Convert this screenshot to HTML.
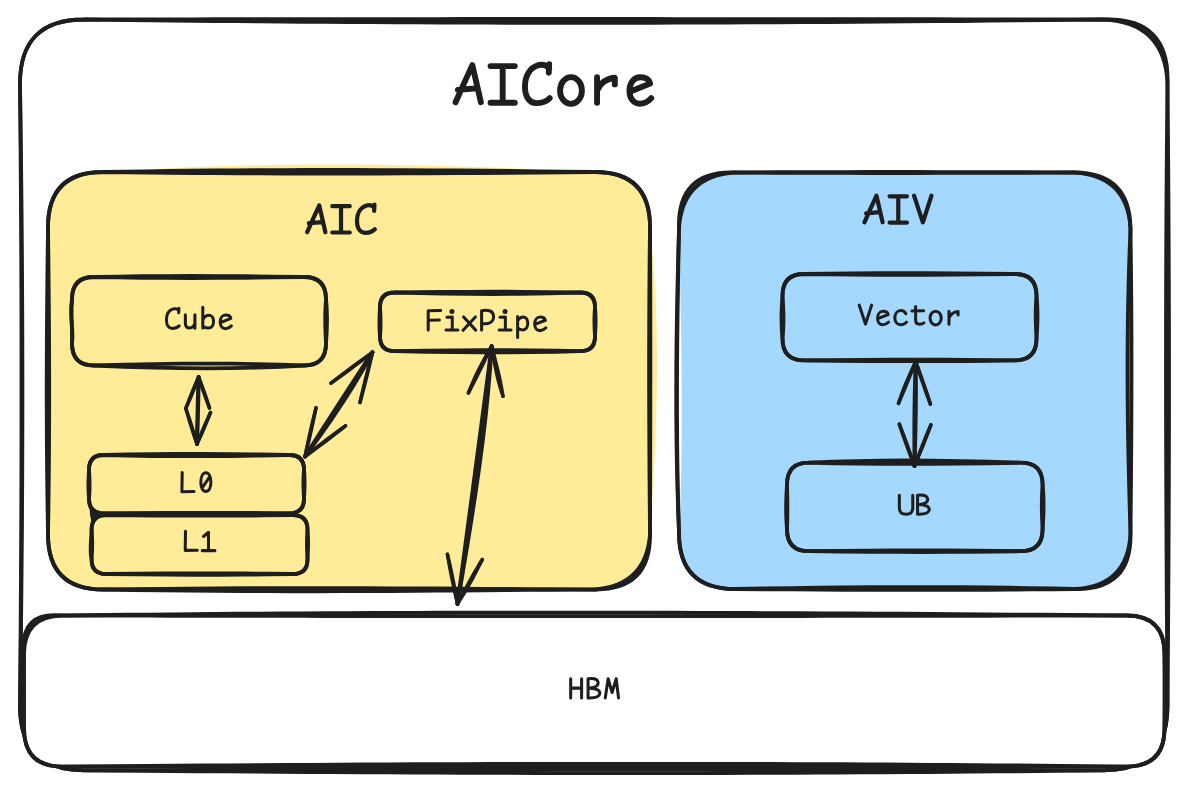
<!DOCTYPE html>
<html><head><meta charset="utf-8"><title>AICore</title>
<style>
html,body{margin:0;padding:0;background:#fff;font-family:"Liberation Sans",sans-serif;}
svg{display:block}
.s{fill:none;stroke:#1e1e1e;stroke-linecap:round;stroke-linejoin:round}
.t{fill:none;stroke:#1e1e1e;stroke-linecap:round;stroke-linejoin:round}
</style></head><body>
<svg width="1187" height="791" viewBox="0 0 1187 791">
<rect width="1187" height="791" fill="#fff"/>
<path d="M84 19.5L105.85 19.5L127.7 19.5L149.58 19.5L171.47 19.5L193.4 19.5L215.38 19.5L237.4 19.5L259.48 19.5L281.62 19.5L303.84 19.5L326.14 19.5L348.53 19.5L371.03 19.5L393.63 19.5L416.34 19.5L439.18 19.5L462.15 19.5L485.26 19.5L508.52 19.5L531.94 19.5L555.52 19.5L579.27 19.5L603.21 19.5L627.34 19.5L651.66 19.5L676.19 19.5L700.94 19.5L725.91 19.5L751.11 19.5L776.55 19.5L802.23 19.5L828.18 19.5L854.38 19.5L880.86 19.5L907.62 19.5L934.67 19.5L962.02 19.5L989.67 19.5L1017.64 19.5L1045.93 19.5L1074.54 19.5L1103.5 19.5Q1167.5 19.5 1167.5 83.5L1167.5 105.92L1167.5 128.37L1167.5 150.87L1167.5 173.44L1167.5 196.1L1167.5 218.89L1167.5 241.81L1167.5 264.91L1167.5 288.19L1167.5 311.69L1167.5 335.43L1167.5 359.44L1167.5 383.73L1167.5 408.33L1167.5 433.26L1167.5 458.56L1167.5 484.24L1167.5 510.32L1167.5 536.83L1167.5 563.8L1167.5 591.25L1167.5 619.2L1167.5 647.68L1167.5 676.7L1167.5 706.3Q1167.5 770.3 1103.5 770.3L1081.65 770.3L1059.8 770.3L1037.92 770.3L1016.03 770.3L994.1 770.3L972.12 770.3L950.1 770.3L928.02 770.3L905.88 770.3L883.66 770.3L861.36 770.3L838.97 770.3L816.47 770.3L793.87 770.3L771.16 770.3L748.32 770.3L725.35 770.3L702.24 770.3L678.98 770.3L655.56 770.3L631.98 770.3L608.23 770.3L584.29 770.3L560.16 770.3L535.84 770.3L511.31 770.3L486.56 770.3L461.59 770.3L436.39 770.3L410.95 770.3L385.27 770.3L359.32 770.3L333.12 770.3L306.64 770.3L279.88 770.3L252.83 770.3L225.48 770.3L197.83 770.3L169.86 770.3L141.57 770.3L112.96 770.3L84 770.3Q20 770.3 20 706.3L20 683.88L20 661.43L20 638.93L20 616.36L20 593.7L20 570.91L20 547.99L20 524.89L20 501.61L20 478.11L20 454.37L20 430.36L20 406.07L20 381.47L20 356.54L20 331.24L20 305.56L20 279.48L20 252.97L20 226L20 198.55L20 170.6L20 142.12L20 113.1L20 83.5Q20 19.5 84 19.5" fill="#ffffff"/>
<path d="M84 19.5L105.85 19.45L127.7 19.41L149.58 19.37L171.47 19.33L193.4 19.29L215.38 19.26L237.4 19.22L259.48 19.19L281.62 19.16L303.84 19.14L326.14 19.11L348.53 19.09L371.03 19.07L393.63 19.06L416.34 19.04L439.18 19.03L462.15 19.02L485.26 19.01L508.52 19L531.94 19L555.52 19L579.27 19L603.21 19L627.34 19.01L651.66 19.02L676.19 19.03L700.94 19.04L725.91 19.06L751.11 19.07L776.55 19.09L802.23 19.11L828.18 19.14L854.38 19.16L880.86 19.19L907.62 19.22L934.67 19.26L962.02 19.29L989.67 19.33L1017.64 19.37L1045.93 19.41L1074.54 19.45L1103.5 19.5Q1170 17 1167.5 83.5L1167.26 105.92L1167.03 128.37L1166.83 150.87L1166.66 173.44L1166.5 196.1L1166.37 218.89L1166.25 241.81L1166.16 264.91L1166.09 288.19L1166.04 311.69L1166.01 335.43L1166 359.44L1166.01 383.73L1166.03 408.33L1166.08 433.26L1166.14 458.56L1166.23 484.24L1166.33 510.32L1166.44 536.83L1166.58 563.8L1166.73 591.25L1166.9 619.2L1167.08 647.68L1167.28 676.7L1167.5 706.3Q1167.5 770.3 1103.5 770.3L1081.65 770.23L1059.8 770.15L1037.92 770.09L1016.03 770.02L994.1 769.96L972.12 769.91L950.1 769.86L928.02 769.81L905.88 769.76L883.66 769.72L861.36 769.68L838.97 769.65L816.47 769.62L793.87 769.59L771.16 769.57L748.32 769.55L725.35 769.53L702.24 769.52L678.98 769.51L655.56 769.5L631.98 769.5L608.23 769.5L584.29 769.51L560.16 769.52L535.84 769.53L511.31 769.55L486.56 769.57L461.59 769.59L436.39 769.62L410.95 769.65L385.27 769.68L359.32 769.72L333.12 769.76L306.64 769.81L279.88 769.86L252.83 769.91L225.48 769.96L197.83 770.02L169.86 770.09L141.57 770.15L112.96 770.23L84 770.3Q20 770.3 20 706.3L20.19 683.88L20.37 661.43L20.54 638.93L20.7 616.36L20.84 593.7L20.98 570.91L21.1 547.99L21.21 524.89L21.3 501.61L21.38 478.11L21.44 454.37L21.49 430.36L21.51 406.07L21.51 381.47L21.5 356.54L21.46 331.24L21.4 305.56L21.32 279.48L21.21 252.97L21.08 226L20.92 198.55L20.73 170.6L20.52 142.12L20.27 113.1L20 83.5Q20 19.5 84 19.5" class="s" stroke-width="3.8"/>
<path d="M84 19.5L105.85 19.78L127.7 20.05L149.58 20.31L171.47 20.55L193.4 20.79L215.38 21.01L237.4 21.22L259.48 21.42L281.62 21.61L303.84 21.78L326.14 21.94L348.53 22.09L371.03 22.22L393.63 22.34L416.34 22.45L439.18 22.55L462.15 22.63L485.26 22.69L508.52 22.74L531.94 22.78L555.52 22.8L579.27 22.81L603.21 22.8L627.34 22.77L651.66 22.74L676.19 22.68L700.94 22.61L725.91 22.52L751.11 22.42L776.55 22.3L802.23 22.16L828.18 22.01L854.38 21.84L880.86 21.65L907.62 21.44L934.67 21.22L962.02 20.98L989.67 20.72L1017.64 20.44L1045.93 20.15L1074.54 19.83L1103.5 19.5Q1165 22 1167.5 83.5L1167.72 105.92L1167.92 128.37L1168.1 150.87L1168.27 173.44L1168.42 196.1L1168.56 218.89L1168.67 241.81L1168.77 264.91L1168.86 288.19L1168.92 311.69L1168.97 335.43L1168.99 359.44L1169 383.73L1168.99 408.33L1168.96 433.26L1168.91 458.56L1168.84 484.24L1168.75 510.32L1168.63 536.83L1168.5 563.8L1168.34 591.25L1168.17 619.2L1167.97 647.68L1167.74 676.7L1167.5 706.3Q1167.5 770.3 1103.5 770.3L1081.65 770.56L1059.8 770.81L1037.92 771.04L1016.03 771.27L994.1 771.47L972.12 771.67L950.1 771.86L928.02 772.03L905.88 772.19L883.66 772.33L861.36 772.47L838.97 772.59L816.47 772.69L793.87 772.79L771.16 772.87L748.32 772.94L725.35 773L702.24 773.04L678.98 773.07L655.56 773.09L631.98 773.1L608.23 773.09L584.29 773.07L560.16 773.04L535.84 773L511.31 772.94L486.56 772.87L461.59 772.79L436.39 772.69L410.95 772.59L385.27 772.47L359.32 772.33L333.12 772.19L306.64 772.03L279.88 771.86L252.83 771.67L225.48 771.47L197.83 771.27L169.86 771.04L141.57 770.81L112.96 770.56L84 770.3Q20 770.3 20 706.3L20.31 683.88L20.61 661.43L20.89 638.93L21.14 616.36L21.38 593.7L21.6 570.91L21.79 547.99L21.96 524.89L22.11 501.61L22.23 478.11L22.32 454.37L22.38 430.36L22.41 406.07L22.41 381.47L22.38 356.54L22.32 331.24L22.21 305.56L22.08 279.48L21.9 252.97L21.69 226L21.44 198.55L21.14 170.6L20.81 142.12L20.43 113.1L20 83.5Q20 19.5 84 19.5" class="s" stroke-width="3.8"/>
<path d="M103 172L125.15 170.57L147.33 169.3L169.59 168.17L191.95 167.2L214.47 166.38L237.17 165.7L260.09 165.18L283.27 164.8L306.74 164.58L330.55 164.5L354.73 164.58L379.31 164.8L404.33 165.17L429.84 165.7L455.86 166.38L482.43 167.2L509.59 168.18L537.39 169.3L565.84 170.57L595 172Q650 172 650 227L652.27 250.08L654.07 273.27L655.44 296.67L656.37 320.39L656.89 344.54L657 369.22L656.72 394.54L656.07 420.61L655.06 447.54L653.7 475.42L652.01 504.37L650 534.5Q650 589.5 595 589.5L572.85 589.5L550.67 589.5L528.41 589.5L506.05 589.5L483.53 589.5L460.83 589.5L437.91 589.5L414.73 589.5L391.26 589.5L367.45 589.5L343.27 589.5L318.69 589.5L293.67 589.5L268.16 589.5L242.14 589.5L215.57 589.5L188.41 589.5L160.61 589.5L132.16 589.5L103 589.5Q48 589.5 48 534.5L47.81 511.42L47.58 488.23L47.34 464.83L47.11 441.11L46.91 416.96L46.75 392.28L46.66 366.96L46.67 340.89L46.78 313.96L47.03 286.08L47.43 257.13L48 227Q48 172 103 172" fill="#ffec99"/>
<path d="M103 172L125.15 171.62L147.33 171.28L169.59 170.98L191.95 170.72L214.47 170.5L237.17 170.32L260.09 170.18L283.27 170.08L306.74 170.02L330.55 170L354.73 170.02L379.31 170.08L404.33 170.18L429.84 170.32L455.86 170.5L482.43 170.72L509.59 170.98L537.39 171.28L565.84 171.62L595 172Q650 172 650 227L650.12 250.08L650.21 273.27L650.28 296.67L650.33 320.39L650.35 344.54L650.35 369.22L650.33 394.54L650.3 420.61L650.24 447.54L650.18 475.42L650.09 504.37L650 534.5Q650.5 590 595 589.5L572.85 589.37L550.67 589.23L528.41 589.09L506.05 588.94L483.53 588.79L460.83 588.64L437.91 588.51L414.73 588.39L391.26 588.28L367.45 588.2L343.27 588.14L318.69 588.12L293.67 588.13L268.16 588.17L242.14 588.26L215.57 588.4L188.41 588.59L160.61 588.83L132.16 589.13L103 589.5Q48 589.5 48 534.5L47.6 511.42L47.28 488.23L47.02 464.83L46.84 441.11L46.74 416.96L46.7 392.28L46.74 366.96L46.84 340.89L47.02 313.96L47.28 286.08L47.6 257.13L48 227Q48 172 103 172" class="s" stroke-width="3.8"/>
<path d="M103 172L125.15 172.3L147.33 172.58L169.59 172.82L191.95 173.02L214.47 173.2L237.17 173.34L260.09 173.46L283.27 173.54L306.74 173.58L330.55 173.6L354.73 173.58L379.31 173.54L404.33 173.46L429.84 173.34L455.86 173.2L482.43 173.02L509.59 172.82L537.39 172.58L565.84 172.3L595 172Q650 172 650 227L649.72 250.08L649.5 273.27L649.32 296.67L649.2 320.39L649.12 344.54L649.1 369.22L649.12 394.54L649.2 420.61L649.33 447.54L649.5 475.42L649.73 504.37L650 534.5Q646 585.5 595 589.5L572.85 589.63L550.67 589.79L528.41 589.96L506.05 590.14L483.53 590.33L460.83 590.51L437.91 590.68L414.73 590.84L391.26 590.99L367.45 591.1L343.27 591.18L318.69 591.23L293.67 591.23L268.16 591.18L242.14 591.08L215.57 590.91L188.41 590.67L160.61 590.36L132.16 589.98L103 589.5Q48 589.5 48 534.5L48.37 511.42L48.67 488.23L48.9 464.83L49.07 441.11L49.17 416.96L49.2 392.28L49.17 366.96L49.07 340.89L48.9 313.96L48.67 286.08L48.37 257.13L48 227Q48 172 103 172" class="s" stroke-width="3.8"/>
<path d="M735 172.5L756.84 172.5L778.75 172.5L800.81 172.5L823.09 172.5L845.67 172.5L868.62 172.5L892.02 172.5L915.93 172.5L940.44 172.5L965.62 172.5L991.54 172.5L1018.28 172.5L1045.91 172.5L1074.5 172.5Q1130.5 172.5 1130.5 228.5L1130.5 251.36L1130.5 274.32L1130.5 297.49L1130.5 320.98L1130.5 344.89L1130.5 369.33L1130.5 394.41L1130.5 420.22L1130.5 446.88L1130.5 474.5L1130.5 503.17L1130.5 533Q1130.5 589 1074.5 589L1052.66 589L1030.75 589L1008.69 589L986.41 589L963.83 589L940.88 589L917.48 589L893.57 589L869.06 589L843.88 589L817.96 589L791.22 589L763.59 589L735 589Q679 589 679 533L680.03 510.14L680.81 487.18L681.34 464.01L681.67 440.52L681.8 416.61L681.75 392.17L681.55 367.09L681.22 341.28L680.78 314.62L680.25 287L679.65 258.33L679 228.5Q679 172.5 735 172.5" fill="#a5d8ff"/>
<path d="M735 172.5L756.84 172.37L778.75 172.26L800.81 172.16L823.09 172.09L845.67 172.04L868.62 172.01L892.02 172L915.93 172.01L940.44 172.04L965.62 172.09L991.54 172.16L1018.28 172.26L1045.91 172.37L1074.5 172.5Q1127.5 175.5 1130.5 228.5L1129.58 251.36L1128.83 274.32L1128.25 297.49L1127.83 320.98L1127.58 344.89L1127.5 369.33L1127.58 394.41L1127.83 420.22L1128.25 446.88L1128.83 474.5L1129.58 503.17L1130.5 533Q1128 586.5 1074.5 589L1052.66 588.5L1030.75 588.07L1008.69 587.72L986.41 587.45L963.83 587.26L940.88 587.14L917.48 587.1L893.57 587.14L869.06 587.26L843.88 587.45L817.96 587.72L791.22 588.07L763.59 588.5L735 589Q679 589 679 533L678.12 510.14L677.41 487.18L676.86 464.01L676.48 440.52L676.26 416.61L676.2 392.17L676.29 367.09L676.54 341.28L676.94 314.62L677.48 287L678.17 258.33L679 228.5Q682.2 175.7 735 172.5" class="s" stroke-width="3.8"/>
<path d="M735 172.5L756.84 172.63L778.75 172.74L800.81 172.84L823.09 172.91L845.67 172.96L868.62 172.99L892.02 173L915.93 172.99L940.44 172.96L965.62 172.91L991.54 172.84L1018.28 172.74L1045.91 172.63L1074.5 172.5Q1130 173 1130.5 228.5L1130.81 251.36L1131.06 274.32L1131.25 297.49L1131.39 320.98L1131.47 344.89L1131.5 369.33L1131.47 394.41L1131.39 420.22L1131.25 446.88L1131.06 474.5L1130.81 503.17L1130.5 533Q1132 590.5 1074.5 589L1052.66 589.24L1030.75 589.44L1008.69 589.61L986.41 589.73L963.83 589.83L940.88 589.88L917.48 589.9L893.57 589.88L869.06 589.83L843.88 589.73L817.96 589.61L791.22 589.44L763.59 589.24L735 589Q679 589 679 533L678.34 510.14L677.81 487.18L677.43 464.01L677.16 440.52L677.02 416.61L677 392.17L677.09 367.09L677.28 341.28L677.58 314.62L677.96 287L678.44 258.33L679 228.5Q677 170.5 735 172.5" class="s" stroke-width="3.8"/>
<path d="M94 277L117.67 276.56L141.58 276.25L165.98 276.06L191.12 276L217.25 276.06L244.61 276.25L273.44 276.56L304 277Q326 277 326 299L326.56 305.7L326.89 312.51L327 319.58L326.89 327.02L326.56 334.95L326 343.5Q326 365.5 304 365.5L280.33 364.67L256.42 364.07L232.02 363.72L206.88 363.6L180.75 363.72L153.39 364.07L124.56 364.67L94 365.5Q72 365.5 72 343.5L72.46 336.8L72.24 329.99L71.7 322.92L71.23 315.48L71.2 307.55L72 299Q72 277 94 277" class="s" stroke-width="3.8"/>
<path d="M94 277L117.67 277.44L141.58 277.75L165.98 277.94L191.12 278L217.25 277.94L244.61 277.75L273.44 277.44L304 277Q326 277 326 299L325.56 305.7L325.29 312.51L325.2 319.58L325.29 327.02L325.56 334.95L326 343.5Q326 365.5 304 365.5L280.33 366.77L256.42 367.68L232.02 368.22L206.88 368.4L180.75 368.22L153.39 367.68L124.56 366.77L94 365.5Q72 365.5 72 343.5L72.09 336.8L71.94 329.99L71.7 322.92L71.53 315.48L71.57 307.55L72 299Q72 277 94 277" class="s" stroke-width="3.8"/>
<path d="M394.7 292.5L418.62 292.22L442.86 291.98L467.75 291.8L493.61 291.73L520.78 291.8L549.57 292.05L580.3 292.5Q595 292.5 595 307.2L595.33 311.61L595.53 316.1L595.6 320.75L595.53 325.65L595.33 330.87L595 336.5Q595 351.2 580.3 351.2L556.38 350.71L532.14 350.38L507.25 350.22L481.39 350.22L454.22 350.38L425.43 350.71L394.7 351.2Q380 351.2 380 336.5L379.67 332.09L379.47 327.6L379.4 322.95L379.47 318.05L379.67 312.83L380 307.2Q380 292.5 394.7 292.5" class="s" stroke-width="3.8"/>
<path d="M394.7 292.5L418.62 293.06L442.86 293.55L467.75 293.9L493.61 294.04L520.78 293.9L549.57 293.41L580.3 292.5Q595 292.5 595 307.2L594.67 311.61L594.47 316.1L594.4 320.75L594.47 325.65L594.67 330.87L595 336.5Q595 351.2 580.3 351.2L556.38 351.79L532.14 352.18L507.25 352.38L481.39 352.38L454.22 352.18L425.43 351.79L394.7 351.2Q380 351.2 380 336.5L380.33 332.09L380.53 327.6L380.6 322.95L380.53 318.05L380.33 312.83L380 307.2Q380 292.5 394.7 292.5" class="s" stroke-width="3.8"/>
<path d="M103.6 455L127.54 454.51L151.81 454.18L176.73 454.02L202.62 454.02L229.81 454.18L258.63 454.51L289.4 455Q304 455 304 469.6L304.33 473.98L304.53 478.44L304.6 483.06L304.53 487.92L304.33 493.11L304 498.7Q304 513.3 289.4 513.3L265.46 513.06L241.19 512.89L216.27 512.81L190.38 512.81L163.19 512.89L134.37 513.06L103.6 513.3Q89 513.3 89 498.7L88.67 494.32L88.47 489.86L88.4 485.24L88.47 480.38L88.67 475.19L89 469.6Q89 455 103.6 455" class="s" stroke-width="3.8"/>
<path d="M103.6 455L127.54 455.59L151.81 455.98L176.73 456.18L202.62 456.18L229.81 455.98L258.63 455.59L289.4 455Q304 455 304 469.6L303.67 473.98L303.47 478.44L303.4 483.06L303.47 487.92L303.67 493.11L304 498.7Q304 513.3 289.4 513.3L265.46 513.59L241.19 513.79L216.27 513.89L190.38 513.89L163.19 513.79L134.37 513.59L103.6 513.3Q89 513.3 89 498.7L89.33 494.32L89.53 489.86L89.6 485.24L89.53 480.38L89.33 475.19L89 469.6Q89 455 103.6 455" class="s" stroke-width="3.8"/>
<path d="M106.1 515.2L130.18 514.96L154.6 514.79L179.66 514.71L205.71 514.71L233.06 514.79L262.05 514.96L293 515.2Q307.5 515.2 307.5 529.7L307.83 534.18L308.03 538.75L308.1 543.48L308.03 548.46L307.83 553.77L307.5 559.5Q307.5 574 293 574L268.92 573.71L244.5 573.51L219.44 573.41L193.39 573.41L166.04 573.51L137.05 573.71L106.1 574Q91.6 574 91.6 559.5L90.91 555.02L90.65 550.45L90.7 545.72L90.95 540.74L91.29 535.43L91.6 529.7Q91.6 515.2 106.1 515.2" class="s" stroke-width="3.8"/>
<path d="M106.1 515.2L130.18 515.44L154.6 515.61L179.66 515.69L205.71 515.69L233.06 515.61L262.05 515.44L293 515.2Q307.5 515.2 307.5 529.7L307.17 534.18L306.97 538.75L306.9 543.48L306.97 548.46L307.17 553.77L307.5 559.5Q307.5 574 293 574L268.92 574.39L244.5 574.65L219.44 574.78L193.39 574.78L166.04 574.65L137.05 574.39L106.1 574Q91.6 574 91.6 559.5L91.86 555.02L92.07 550.45L92.2 545.72L92.19 540.74L92.01 535.43L91.6 529.7Q91.6 515.2 106.1 515.2" class="s" stroke-width="3.8"/>
<path d="M89.6 504.5Q91.5 512.5 101 514.2Q93 516 91.8 523Q89.2 514 89.6 504.5Z" fill="#1e1e1e"/>
<path d="M804.1 274L827.86 273.65L851.86 273.4L876.36 273.25L901.59 273.2L927.82 273.25L955.28 273.4L984.23 273.65L1014.9 274Q1036.5 274 1036.5 295.6L1037.06 302.1L1037.39 308.72L1037.5 315.58L1037.39 322.8L1037.06 330.5L1036.5 338.8Q1036.5 360.4 1014.9 360.4L991.14 360.05L967.14 359.8L942.64 359.65L917.41 359.6L891.18 359.65L863.72 359.8L834.77 360.05L804.1 360.4Q782.5 360.4 782.5 338.8L781.94 332.3L781.61 325.68L781.5 318.82L781.61 311.6L781.94 303.9L782.5 295.6Q782.5 274 804.1 274" class="s" stroke-width="3.8"/>
<path d="M804.1 274L827.86 274.35L851.86 274.6L876.36 274.75L901.59 274.8L927.82 274.75L955.28 274.6L984.23 274.35L1014.9 274Q1036.5 274 1036.5 295.6L1036.06 302.1L1035.79 308.72L1035.7 315.58L1035.79 322.8L1036.06 330.5L1036.5 338.8Q1036.5 360.4 1014.9 360.4L991.14 360.75L967.14 361L942.64 361.15L917.41 361.2L891.18 361.15L863.72 361L834.77 360.75L804.1 360.4Q782.5 360.4 782.5 338.8L783.06 332.3L783.39 325.68L783.5 318.82L783.39 311.6L783.06 303.9L782.5 295.6Q782.5 274 804.1 274" class="s" stroke-width="3.8"/>
<path d="M809 462.7L832.85 461.74L856.94 461.05L881.53 460.64L906.87 460.5L933.19 460.64L960.76 461.05L989.81 461.74L1020.6 462.7Q1042.6 462.7 1042.6 484.7L1043.16 491.4L1043.49 498.21L1043.6 505.28L1043.49 512.72L1043.16 520.65L1042.6 529.2Q1042.6 551.2 1020.6 551.2L996.75 550.85L972.66 550.6L948.07 550.45L922.73 550.4L896.41 550.45L868.84 550.6L839.79 550.85L809 551.2Q787 551.2 787 529.2L786.5 522.5L786.2 515.69L786.1 508.62L786.2 501.18L786.5 493.25L787 484.7Q787 462.7 809 462.7" class="s" stroke-width="3.8"/>
<path d="M809 462.7L832.85 463.23L856.94 463.6L881.53 463.82L906.87 463.9L933.19 463.82L960.76 463.6L989.81 463.23L1020.6 462.7Q1042.6 462.7 1042.6 484.7L1042.16 491.4L1041.89 498.21L1041.8 505.28L1041.89 512.72L1042.16 520.65L1042.6 529.2Q1042.6 551.2 1020.6 551.2L996.75 551.55L972.66 551.8L948.07 551.95L922.73 552L896.41 551.95L868.84 551.8L839.79 551.55L809 551.2Q787 551.2 787 529.2L787.22 522.5L787.36 515.69L787.4 508.62L787.36 501.18L787.22 493.25L787 484.7Q787 462.7 809 462.7" class="s" stroke-width="3.8"/>
<path d="M62 615.5L83.78 615.5L105.56 615.5L127.36 615.5L149.18 615.5L171.03 615.5L192.91 615.5L214.85 615.5L236.83 615.5L258.88 615.5L280.99 615.5L303.18 615.5L325.45 615.5L347.81 615.5L370.26 615.5L392.83 615.5L415.5 615.5L438.3 615.5L461.22 615.5L484.27 615.5L507.47 615.5L530.82 615.5L554.33 615.5L578 615.5L601.85 615.5L625.87 615.5L650.08 615.5L674.49 615.5L699.1 615.5L723.92 615.5L748.96 615.5L774.22 615.5L799.71 615.5L825.45 615.5L851.43 615.5L877.66 615.5L904.16 615.5L930.93 615.5L957.98 615.5L985.31 615.5L1012.93 615.5L1040.86 615.5L1069.09 615.5L1097.63 615.5L1126.5 615.5Q1164.5 615.5 1164.5 653.5L1164.5 664.8L1164.5 676.31L1164.5 688.23L1164.5 700.79L1164.5 714.17L1164.5 728.6Q1164.5 766.6 1126.5 766.6L1104.72 766.6L1082.94 766.6L1061.14 766.6L1039.32 766.6L1017.47 766.6L995.59 766.6L973.65 766.6L951.67 766.6L929.62 766.6L907.51 766.6L885.32 766.6L863.05 766.6L840.69 766.6L818.24 766.6L795.67 766.6L773 766.6L750.2 766.6L727.28 766.6L704.23 766.6L681.03 766.6L657.68 766.6L634.17 766.6L610.5 766.6L586.65 766.6L562.63 766.6L538.42 766.6L514.01 766.6L489.4 766.6L464.58 766.6L439.54 766.6L414.28 766.6L388.79 766.6L363.05 766.6L337.07 766.6L310.84 766.6L284.34 766.6L257.57 766.6L230.52 766.6L203.19 766.6L175.57 766.6L147.64 766.6L119.41 766.6L90.87 766.6L62 766.6Q24 766.6 24 728.6L24 717.3L24 705.79L24 693.87L24 681.31L24 667.93L24 653.5Q24 615.5 62 615.5" fill="#ffffff"/>
<path d="M62 615.5L83.78 615.24L105.56 615L127.36 614.76L149.18 614.54L171.03 614.33L192.91 614.13L214.85 613.95L236.83 613.77L258.88 613.61L280.99 613.46L303.18 613.32L325.45 613.2L347.81 613.09L370.26 612.98L392.83 612.89L415.5 612.82L438.3 612.75L461.22 612.7L484.27 612.65L507.47 612.62L530.82 612.61L554.33 612.6L578 612.61L601.85 612.62L625.87 612.65L650.08 612.7L674.49 612.75L699.1 612.82L723.92 612.89L748.96 612.98L774.22 613.09L799.71 613.2L825.45 613.33L851.43 613.46L877.66 613.61L904.16 613.77L930.93 613.95L957.98 614.13L985.31 614.33L1012.93 614.54L1040.86 614.76L1069.09 615L1097.63 615.24L1126.5 615.5Q1164.5 615.5 1164.5 653.5L1164.5 664.8L1164.5 676.31L1164.5 688.23L1164.5 700.79L1164.5 714.17L1164.5 728.6Q1164.5 766.6 1126.5 766.6L1104.72 766.35L1082.94 766.11L1061.14 765.89L1039.32 765.67L1017.47 765.47L995.59 765.28L973.65 765.1L951.67 764.93L929.62 764.78L907.51 764.63L885.32 764.5L863.05 764.38L840.69 764.27L818.24 764.17L795.67 764.08L773 764.01L750.2 763.94L727.28 763.89L704.23 763.85L681.03 763.82L657.68 763.81L634.17 763.8L610.5 763.81L586.65 763.82L562.63 763.85L538.42 763.89L514.01 763.94L489.4 764.01L464.58 764.08L439.54 764.17L414.28 764.27L388.79 764.38L363.05 764.5L337.07 764.63L310.84 764.78L284.34 764.93L257.57 765.1L230.52 765.28L203.19 765.47L175.57 765.67L147.64 765.89L119.41 766.11L90.87 766.35L62 766.6Q24 766.6 24 728.6L24 717.3L24 705.79L24 693.87L24 681.31L24 667.93L24 653.5Q24.5 616 62 615.5" class="s" stroke-width="3.8"/>
<path d="M62 615.5L83.78 615.55L105.56 615.6L127.36 615.65L149.18 615.7L171.03 615.74L192.91 615.78L214.85 615.82L236.83 615.86L258.88 615.89L280.99 615.92L303.18 615.95L325.45 615.98L347.81 616L370.26 616.02L392.83 616.04L415.5 616.06L438.3 616.07L461.22 616.08L484.27 616.09L507.47 616.1L530.82 616.1L554.33 616.1L578 616.1L601.85 616.1L625.87 616.09L650.08 616.08L674.49 616.07L699.1 616.06L723.92 616.04L748.96 616.02L774.22 616L799.71 615.98L825.45 615.95L851.43 615.92L877.66 615.89L904.16 615.86L930.93 615.82L957.98 615.78L985.31 615.74L1012.93 615.7L1040.86 615.65L1069.09 615.6L1097.63 615.55L1126.5 615.5Q1164.5 615.5 1164.5 653.5L1164.78 664.8L1164.94 676.31L1165 688.23L1164.94 700.79L1164.78 714.17L1164.5 728.6Q1164.5 766.6 1126.5 766.6L1104.72 766.64L1082.94 766.67L1061.14 766.7L1039.32 766.73L1017.47 766.76L995.59 766.79L973.65 766.81L951.67 766.84L929.62 766.86L907.51 766.88L885.32 766.9L863.05 766.92L840.69 766.93L818.24 766.95L795.67 766.96L773 766.97L750.2 766.98L727.28 766.99L704.23 766.99L681.03 767L657.68 767L634.17 767L610.5 767L586.65 767L562.63 766.99L538.42 766.99L514.01 766.98L489.4 766.97L464.58 766.96L439.54 766.95L414.28 766.93L388.79 766.92L363.05 766.9L337.07 766.88L310.84 766.86L284.34 766.84L257.57 766.81L230.52 766.79L203.19 766.76L175.57 766.73L147.64 766.7L119.41 766.67L90.87 766.64L62 766.6Q24 766.6 24 728.6L23.72 717.3L23.56 705.79L23.5 693.87L23.56 681.31L23.72 667.93L24 653.5Q19.5 611 62 615.5" class="s" stroke-width="3.8"/>
<path d="M198.6 377L198.53 387.08L198.38 397.35L198.16 407.99L197.86 419.19L197.47 431.13L197 444" class="s" stroke-width="3.8"/>
<path d="M198.6 377L198.19 387.08L197.85 397.34L197.56 407.98L197.33 419.18L197.14 431.12L197 444" class="s" stroke-width="3.8"/>
<path d="M186 408L187.74 403.27L189.58 398.48L191.55 393.55L193.69 388.38L196.02 382.89L198.6 377" class="s" stroke-width="3.5"/>
<path d="M186 408L188.05 403.4L190.07 398.69L192.11 393.78L194.18 388.58L196.33 383.02L198.6 377" class="s" stroke-width="3.5"/>
<path d="M209.5 408L207.7 403.39L205.94 398.67L204.18 393.76L202.39 388.57L200.54 383.01L198.6 377" class="s" stroke-width="3.5"/>
<path d="M209.5 408L208.02 403.28L206.44 398.5L204.74 393.56L202.89 388.39L200.85 382.9L198.6 377" class="s" stroke-width="3.5"/>
<path d="M186 409L187.81 414.22L189.6 419.55L191.37 425.1L193.18 430.96L195.05 437.23L197 444" class="s" stroke-width="3.5"/>
<path d="M186 409L187.5 414.32L189.09 419.71L190.8 425.28L192.67 431.12L194.73 437.33L197 444" class="s" stroke-width="3.5"/>
<path d="M210.5 412.5L208.62 417.31L206.65 422.17L204.53 427.19L202.25 432.44L199.75 438.01L197 444" class="s" stroke-width="3.5"/>
<path d="M210.5 412.5L208.32 417.17L206.15 421.96L203.98 426.95L201.75 432.23L199.44 437.88L197 444" class="s" stroke-width="3.5"/>
<path d="M372.5 352.3L362.2 367.89L351.78 383.8L341.03 400.33L329.78 417.76L317.83 436.39L305 456.5" class="s" stroke-width="3.8"/>
<path d="M372.5 352.3L362.85 368.31L352.8 384.46L342.16 401.06L330.77 418.41L318.44 436.79L305 456.5" class="s" stroke-width="3.8"/>
<path d="M372.5 352.3L363.49 368.72L353.82 385.12L343.3 401.8L331.77 419.05L319.06 437.18L305 456.5" class="s" stroke-width="3.8"/>
<path d="M331 383.2L337.14 378.42L343.44 373.6L350.01 368.67L356.97 363.53L364.43 358.1L372.5 352.3" class="s" stroke-width="3.5"/>
<path d="M331 383.2L337.34 378.68L343.76 374.03L350.37 369.15L357.29 363.96L364.63 358.37L372.5 352.3" class="s" stroke-width="3.5"/>
<path d="M360 402.5L361.72 394.91L363.54 387.19L365.49 379.21L367.61 370.83L369.94 361.9L372.5 352.3" class="s" stroke-width="3.5"/>
<path d="M360 402.5L362.04 394.99L364.06 387.32L366.07 379.35L368.13 370.96L370.26 361.99L372.5 352.3" class="s" stroke-width="3.5"/>
<path d="M316 407.8L314.51 415.16L312.92 422.65L311.21 430.39L309.33 438.52L307.28 447.18L305 456.5" class="s" stroke-width="3.5"/>
<path d="M316 407.8L314.18 415.09L312.4 422.53L310.62 430.26L308.81 438.4L306.95 447.11L305 456.5" class="s" stroke-width="3.5"/>
<path d="M345.5 425.8L339.51 430.55L333.36 435.34L326.95 440.24L320.16 445.34L312.88 450.73L305 456.5" class="s" stroke-width="3.5"/>
<path d="M345.5 425.8L339.31 430.29L333.04 434.91L326.59 439.76L319.84 444.92L312.68 450.47L305 456.5" class="s" stroke-width="3.5"/>
<path d="M491.6 346.2L488.59 369.42L485.54 392.79L482.42 416.46L479.22 440.6L475.93 465.35L472.53 490.88L469 517.33L465.33 544.86L461.5 573.64L457.5 603.8" class="s" stroke-width="3.8"/>
<path d="M491.6 346.2L489.32 369.51L486.79 392.95L484.02 416.67L480.99 440.83L477.71 465.59L474.18 491.1L470.4 517.52L466.36 545L462.06 573.71L457.5 603.8" class="s" stroke-width="3.8"/>
<path d="M491.6 346.2L490.05 369.61L488.05 393.12L485.62 416.89L482.76 441.07L479.5 465.83L475.84 491.32L471.8 517.7L467.38 545.14L462.61 573.78L457.5 603.8" class="s" stroke-width="3.8"/>
<path d="M468.4 393L471.31 385.67L474.54 378.34L478.14 370.87L482.16 363.11L486.63 354.94L491.6 346.2" class="s" stroke-width="3.5"/>
<path d="M468.4 393L471.99 386.01L475.61 378.87L479.31 371.44L483.17 363.61L487.24 355.24L491.6 346.2" class="s" stroke-width="3.5"/>
<path d="M503 396.2L500.61 388.83L498.5 381.25L496.61 373.33L494.87 364.94L493.22 355.94L491.6 346.2" class="s" stroke-width="3.5"/>
<path d="M503 396.2L501.7 388.58L500.17 380.87L498.41 372.92L496.4 364.59L494.13 355.73L491.6 346.2" class="s" stroke-width="3.5"/>
<path d="M447.4 554.2L449.14 561.62L450.82 569.19L452.46 577.06L454.11 585.36L455.78 594.23L457.5 603.8" class="s" stroke-width="3.5"/>
<path d="M447.4 554.2L448.7 561.71L450.12 569.33L451.68 577.22L453.41 585.5L455.34 594.31L457.5 603.8" class="s" stroke-width="3.5"/>
<path d="M482.3 559.5L478.88 566.34L475.31 573.26L471.48 580.36L467.31 587.74L462.68 595.52L457.5 603.8" class="s" stroke-width="3.5"/>
<path d="M482.3 559.5L478.3 566.02L474.38 572.74L470.44 579.77L466.37 587.22L462.1 595.19L457.5 603.8" class="s" stroke-width="3.5"/>
<path d="M915.7 361.6L915.91 377.31L915.96 393.31L915.84 409.89L915.57 427.34L915.12 445.95L914.5 466" class="s" stroke-width="3.8"/>
<path d="M915.7 361.6L915.13 377.3L914.71 393.3L914.45 409.88L914.32 427.33L914.34 445.94L914.5 466" class="s" stroke-width="3.8"/>
<path d="M898.5 403.4L900.65 396.93L903.07 390.43L905.76 383.78L908.75 376.84L912.06 369.49L915.7 361.6" class="s" stroke-width="3.5"/>
<path d="M898.5 403.4L901.19 397.15L903.89 390.77L906.64 384.14L909.49 377.15L912.5 369.67L915.7 361.6" class="s" stroke-width="3.5"/>
<path d="M930.4 404.1L928.03 397.76L925.68 391.28L923.32 384.54L920.89 377.43L918.37 369.82L915.7 361.6" class="s" stroke-width="3.5"/>
<path d="M930.4 404.1L928.35 397.65L926.19 391.11L923.88 384.35L921.4 377.25L918.68 369.71L915.7 361.6" class="s" stroke-width="3.5"/>
<path d="M899.3 424.1L901.74 430.35L904.17 436.73L906.61 443.38L909.12 450.39L911.74 457.89L914.5 466" class="s" stroke-width="3.5"/>
<path d="M899.3 424.1L901.43 430.46L903.67 436.92L906.05 443.58L908.62 450.57L911.42 458.01L914.5 466" class="s" stroke-width="3.5"/>
<path d="M930.9 424.9L928.59 431.15L926.17 437.48L923.59 444.02L920.82 450.88L917.81 458.17L914.5 466" class="s" stroke-width="3.5"/>
<path d="M930.9 424.9L928.28 431.02L925.67 437.28L923.04 443.8L920.33 450.68L917.5 458.04L914.5 466" class="s" stroke-width="3.5"/>
<g transform="translate(450.9 105.2) scale(0.06250 -0.06250)">
<path d="M75 47C160 240 250 440 343 641L480 47M112 246L420 272" class="t" stroke-width="94"/>
</g>
<g transform="translate(485.3 105.2) scale(0.06250 -0.06250)">
<path d="M84 626L472 626M278 626L278 40M84 40L472 40" class="t" stroke-width="94"/>
</g>
<g transform="translate(519.7 105.2) scale(0.06250 -0.06250)">
<path d="M472 657L465 520M470 590C420 650 340 650 300 641C150 600 84 450 84 300C84 130 160 34 262 34C360 34 440 70 480 112" class="t" stroke-width="94"/>
</g>
<g transform="translate(554.1 105.2) scale(0.06250 -0.06250)">
<path d="M270 450C370 450 445 350 445 236C445 120 370 22 270 22C170 22 95 120 95 236C95 350 170 450 270 450Z" class="t" stroke-width="94"/>
</g>
<g transform="translate(588.5 105.2) scale(0.06250 -0.06250)">
<path d="M137 448L137 39M140 236C180 340 260 420 421 439L421 333" class="t" stroke-width="94"/>
</g>
<g transform="translate(622.9 105.2) scale(0.06250 -0.06250)">
<path d="M130 224L437 346C420 420 350 448 275 448C170 448 105 345 105 232C105 110 170 24 270 24C350 24 410 66 453 112" class="t" stroke-width="94"/>
</g>
<g transform="translate(303.8 234.3) scale(0.04500 -0.04500)">
<path d="M75 47C160 240 250 440 343 641L480 47M112 246L420 272" class="t" stroke-width="94"/>
</g>
<g transform="translate(328.5 234.3) scale(0.04500 -0.04500)">
<path d="M84 626L472 626M278 626L278 40M84 40L472 40" class="t" stroke-width="94"/>
</g>
<g transform="translate(353.2 234.3) scale(0.04500 -0.04500)">
<path d="M472 657L465 520M470 590C420 650 340 650 300 641C150 600 84 450 84 300C84 130 160 34 262 34C360 34 440 70 480 112" class="t" stroke-width="94"/>
</g>
<g transform="translate(861.1 224.4) scale(0.04480 -0.04480)">
<path d="M75 47C160 240 250 440 343 641L480 47M112 246L420 272" class="t" stroke-width="94"/>
</g>
<g transform="translate(885.8 224.4) scale(0.04480 -0.04480)">
<path d="M84 626L472 626M278 626L278 40M84 40L472 40" class="t" stroke-width="94"/>
</g>
<g transform="translate(910.4 224.4) scale(0.04480 -0.04480)">
<path d="M81 641L278 47L471 641" class="t" stroke-width="94"/>
</g>
<g transform="translate(163.7 329.5) scale(0.03220 -0.03220)">
<path d="M472 657L465 520M470 590C420 650 340 650 300 641C150 600 84 450 84 300C84 130 160 34 262 34C360 34 440 70 480 112" class="t" stroke-width="94"/>
</g>
<g transform="translate(181.4 329.5) scale(0.03220 -0.03220)">
<path d="M123 460L123 200C123 90 180 45 250 45C340 45 420 120 420 220M420 460L420 40" class="t" stroke-width="94"/>
</g>
<g transform="translate(199.1 329.5) scale(0.03220 -0.03220)">
<path d="M115 690L115 45M115 300C160 400 240 445 310 445C400 445 448 350 448 250C448 130 380 45 290 45C210 45 150 70 115 110" class="t" stroke-width="94"/>
</g>
<g transform="translate(216.8 329.5) scale(0.03220 -0.03220)">
<path d="M130 224L437 346C420 420 350 448 275 448C170 448 105 345 105 232C105 110 170 24 270 24C350 24 410 66 453 112" class="t" stroke-width="94"/>
</g>
<g transform="translate(425.1 331.4) scale(0.03220 -0.03220)">
<path d="M97 43L97 642L482 648M97 349L443 355" class="t" stroke-width="94"/>
</g>
<g transform="translate(442.8 331.4) scale(0.03220 -0.03220)">
<path d="M127 440L294 444L294 45M100 43L470 43" class="t" stroke-width="94"/>
<circle cx="284" cy="616" r="78" fill="#1e1e1e"/>
</g>
<g transform="translate(460.5 331.4) scale(0.03220 -0.03220)">
<path d="M97 450L472 40M462 450L80 35" class="t" stroke-width="94"/>
</g>
<g transform="translate(478.2 331.4) scale(0.03220 -0.03220)">
<path d="M106 43L106 642M106 642C200 660 300 655 350 640C440 610 478 540 478 450C478 330 380 250 250 240L106 235" class="t" stroke-width="94"/>
</g>
<g transform="translate(495.9 331.4) scale(0.03220 -0.03220)">
<path d="M127 440L294 444L294 45M100 43L470 43" class="t" stroke-width="94"/>
<circle cx="284" cy="616" r="78" fill="#1e1e1e"/>
</g>
<g transform="translate(513.6 331.4) scale(0.03220 -0.03220)">
<path d="M125 460L125 -190M125 330C170 410 240 450 300 450C390 450 441 360 441 250C441 130 380 45 290 45C220 45 160 70 125 110" class="t" stroke-width="94"/>
</g>
<g transform="translate(531.3 331.4) scale(0.03220 -0.03220)">
<path d="M130 224L437 346C420 420 350 448 275 448C170 448 105 345 105 232C105 110 170 24 270 24C350 24 410 66 453 112" class="t" stroke-width="94"/>
</g>
<g transform="translate(856.6 325.6) scale(0.03200 -0.03200)">
<path d="M81 641L278 47L471 641" class="t" stroke-width="94"/>
</g>
<g transform="translate(874.2 325.6) scale(0.03200 -0.03200)">
<path d="M130 224L437 346C420 420 350 448 275 448C170 448 105 345 105 232C105 110 170 24 270 24C350 24 410 66 453 112" class="t" stroke-width="94"/>
</g>
<g transform="translate(891.8 325.6) scale(0.03200 -0.03200)">
<path d="M440 370C400 450 330 470 283 470C160 470 95 360 95 240C95 110 170 30 280 30C360 30 420 60 460 110" class="t" stroke-width="94"/>
</g>
<g transform="translate(909.4 325.6) scale(0.03200 -0.03200)">
<path d="M195 600L195 160C195 80 250 45 320 45C380 45 420 60 455 85M75 455L445 462" class="t" stroke-width="94"/>
</g>
<g transform="translate(927 325.6) scale(0.03200 -0.03200)">
<path d="M270 450C370 450 445 350 445 236C445 120 370 22 270 22C170 22 95 120 95 236C95 350 170 450 270 450Z" class="t" stroke-width="94"/>
</g>
<g transform="translate(944.6 325.6) scale(0.03200 -0.03200)">
<path d="M137 448L137 39M140 236C180 340 260 420 421 439L421 333" class="t" stroke-width="94"/>
</g>
<g transform="translate(179.3 493.2) scale(0.03220 -0.03220)">
<path d="M90 641L81 47L455 52" class="t" stroke-width="94"/>
</g>
<g transform="translate(197 493.2) scale(0.03220 -0.03220)">
<path d="M275 633C375 633 431 500 431 344C431 180 375 55 275 55C175 55 119 180 119 344C119 500 175 633 275 633ZM385 500L165 170" class="t" stroke-width="94"/>
</g>
<g transform="translate(182.6 551.9) scale(0.03220 -0.03220)">
<path d="M90 641L81 47L455 52" class="t" stroke-width="94"/>
</g>
<g transform="translate(200.3 551.9) scale(0.03220 -0.03220)">
<path d="M100 478L254 610L254 40M60 40L455 40" class="t" stroke-width="94"/>
</g>
<g transform="translate(897.2 515.8) scale(0.03220 -0.03220)">
<path d="M67 641L67 250C67 100 160 45 275 45C390 45 483 100 483 250L483 641" class="t" stroke-width="94"/>
</g>
<g transform="translate(914.8 515.8) scale(0.03220 -0.03220)">
<path d="M86 641L86 47M86 641C200 655 380 650 400 520C410 430 300 370 150 350M150 350C350 340 460 280 451 190C440 80 300 40 86 47" class="t" stroke-width="94"/>
</g>
<g transform="translate(567.6 699.4) scale(0.03220 -0.03220)">
<path d="M96 641L96 47M435 641L435 47M96 350L435 350" class="t" stroke-width="94"/>
</g>
<g transform="translate(585.3 699.4) scale(0.03220 -0.03220)">
<path d="M86 641L86 47M86 641C200 655 380 650 400 520C410 430 300 370 150 350M150 350C350 340 460 280 451 190C440 80 300 40 86 47" class="t" stroke-width="94"/>
</g>
<g transform="translate(603 699.4) scale(0.03220 -0.03220)">
<path d="M71 47L160 641L283 215L410 641L482 47" class="t" stroke-width="94"/>
</g>
</svg>
</body></html>
